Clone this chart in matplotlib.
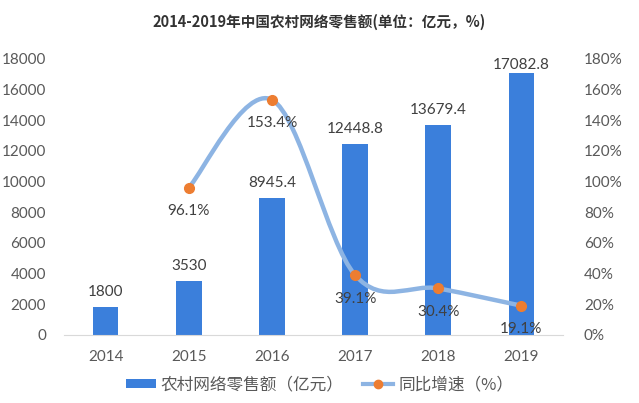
import matplotlib
matplotlib.use('Agg')
import matplotlib.pyplot as plt
from matplotlib.path import Path
from matplotlib.patches import PathPatch, Patch
from matplotlib.lines import Line2D
from matplotlib.ticker import FuncFormatter

plt.rcParams['font.family'] = ['Lato', 'Noto Sans CJK SC', 'DejaVu Sans']

years = ['2014', '2015', '2016', '2017', '2018', '2019']
sales = [1800, 3530, 8945.4, 12448.8, 13679.4, 17082.8]
sales_labels = ['1800', '3530', '8945.4', '12448.8', '13679.4', '17082.8']
# growth rate starts in 2015
growth_idx = [1, 2, 3, 4, 5]
growth = [0.961, 1.534, 0.391, 0.304, 0.191]
growth_labels = ['96.1%', '153.4%', '39.1%', '30.4%', '19.1%']

bar_color = '#3b7fdb'
line_color = '#8db4e3'
marker_color = '#ed7d31'
text_color = '#404040'
tick_color = '#595959'

fig = plt.figure(figsize=(6.39, 4.03), dpi=100)
ax = fig.add_axes([64/639, 68/403, (563-64)/639, (335-59)/403])
ax2 = ax.twinx()

x = list(range(len(years)))
ax.bar(x, sales, width=0.31, color=bar_color, zorder=2)
ax.set_xlim(-0.5, 5.5)
ax.set_ylim(0, 18000)
ax.set_yticks(range(0, 18001, 2000))
ax.set_xticks(x)
ax.set_xticklabels(years)

for i, v in enumerate(sales):
    ypos = min(v + 1000, 17600)
    ax.text(i, ypos, sales_labels[i], ha='center', va='center', fontsize=11, color=text_color, zorder=5)

# smooth line like excel (catmull-rom as bezier)
pts = list(zip(growth_idx, growth))
verts = [pts[0]]
codes = [Path.MOVETO]
for k in range(len(pts) - 1):
    p0 = pts[k - 1] if k > 0 else pts[k]
    p1 = pts[k]
    p2 = pts[k + 1]
    p3 = pts[k + 2] if k + 2 < len(pts) else pts[k + 1]
    c1 = (p1[0] + (p2[0] - p0[0]) / 6, p1[1] + (p2[1] - p0[1]) / 6)
    c2 = (p2[0] - (p3[0] - p1[0]) / 6, p2[1] - (p3[1] - p1[1]) / 6)
    verts += [c1, c2, p2]
    codes += [Path.CURVE4] * 3
ax2.add_patch(PathPatch(Path(verts, codes), fill=False, edgecolor=line_color,
                        linewidth=3.2, capstyle='round', zorder=3))
ax2.plot(growth_idx, growth, linestyle='none', marker='o', markersize=7,
         color=marker_color, zorder=4)
for i, v, lab in zip(growth_idx, growth, growth_labels):
    ax2.annotate(lab, (i, v), xytext=(0, -17), textcoords='offset points',
                 ha='center', va='center', fontsize=11, color=text_color, zorder=5)

ax2.set_ylim(0, 1.8)
ax2.set_yticks([i / 10 for i in range(0, 19, 2)])
ax2.yaxis.set_major_formatter(FuncFormatter(lambda v, p: '{:.0f}%'.format(v * 100)))

for a in (ax, ax2):
    for s in a.spines.values():
        s.set_visible(False)
    a.tick_params(length=0, labelsize=11, labelcolor=tick_color)
ax.spines['bottom'].set_visible(True)
ax.spines['bottom'].set_color('#d9d9d9')
ax.tick_params(axis='y', pad=13)
ax.tick_params(axis='x', pad=11)
ax2.tick_params(axis='y', pad=15)
for lab in ax2.get_yticklabels():
    lab.set_ha('left')

fig.text(0.5, 1 - 22/403, '2014-2019年中国农村网络零售额(单位：亿元，%)', ha='center', va='center',
         fontsize=10.5, fontweight='bold', color='#333333', family=['Noto Sans CJK SC'])

handles = [Patch(facecolor=bar_color), Line2D([], [], color=line_color, linewidth=3,
           marker='o', markersize=6, markerfacecolor=marker_color, markeredgecolor=marker_color)]
fig.legend(handles, ['农村网络零售额（亿元）', '同比增速（%）'], loc='center', bbox_to_anchor=(0.5, 1 - 385/403),
           ncol=2, frameon=False, handlelength=1.8, handleheight=0.5,
           columnspacing=1.2, handletextpad=0.3, prop={'family': ['Noto Sans CJK SC'], 'size': 12},
           labelcolor=tick_color)

fig.savefig('out.png', dpi=100)
